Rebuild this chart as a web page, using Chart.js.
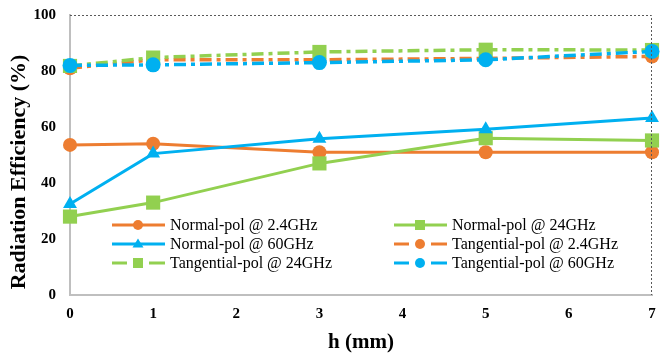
<!DOCTYPE html>
<html>
<head>
<meta charset="utf-8">
<script src="https://cdn.jsdelivr.net/npm/chart.js@4/dist/chart.umd.min.js"></script>
<style>
  html, body { margin: 0; padding: 0; background: #fff; }
  #chart { display: block; }
</style>
</head>
<body>
<canvas id="chart" width="662" height="355"></canvas>
<script>
  // ---- data ----
  const hValues      = [0, 1, 3, 5, 7];
  const normal24G    = [53.6, 54, 51, 51, 51];
  const normal24GHz  = [28, 33, 47, 56, 55.2];
  const normal60GHz  = [32.5, 50.5, 55.8, 59.2, 63.2];
  const tang24G      = [81, 84, 84, 84.5, 85.2];
  const tang24GHz    = [81.8, 84.8, 86.8, 87.6, 87.5];
  const tang60GHz    = [82, 82.2, 83, 84, 87];
  const yTicks       = [0, 20, 40, 60, 80, 100];
  const yTitle       = 'Radiation Efficiency (%)';

  const ORANGE = '#ED7D31';
  const GREEN  = '#92D050';
  const BLUE   = '#00B0F0';
  const SERIF  = '"Liberation Serif", "Times New Roman", serif';

  function pts(arr)
  {
      return hValues.map((h, i) => ({ x: h, y: arr[i] }));
  }

  function makeSet(label, values, color, style, dashed, radius, order)
  {
      return {
          label: label,
          data: pts(values),
          borderColor: color,
          backgroundColor: color,
          pointBackgroundColor: color,
          pointBorderColor: color,
          pointStyle: style,
          pointRadius: radius,
          pointBorderWidth: 0,
          borderWidth: dashed ? 3.5 : 3,
          borderDash: dashed ? [12, 5, 4, 5] : [],
          tension: 0,
          clip: false,
          order: order
      };
  }

  const datasets = [
      makeSet('Normal-pol @ 2.4GHz',     normal24G,   ORANGE, 'circle',   false, 7, 6),
      makeSet('Normal-pol @ 24GHz',      normal24GHz, GREEN,  'rect',     false, 10, 5),
      makeSet('Normal-pol @ 60GHz',      normal60GHz, BLUE,   'triangle', false, 8, 4),
      makeSet('Tangential-pol @ 2.4GHz', tang24G,     ORANGE, 'circle',   true,  7, 3),
      makeSet('Tangential-pol @ 24GHz',  tang24GHz,   GREEN,  'rect',     true,  10, 2),
      makeSet('Tangential-pol @ 60GHz',  tang60GHz,   BLUE,   'circle',   true,  7.5, 1)
  ];

  /**==========================================================
   *   small marker drawer used by the in-plot legend
   ==========================================================*/
  function drawMarker(ctx, style, x, y, r, color)
  {
      ctx.save();
      ctx.fillStyle = color;
      ctx.setLineDash([]);
      ctx.beginPath();
      if (style === 'circle') {
          ctx.arc(x, y, r, 0, Math.PI * 2);
      } else if (style === 'rect') {
          ctx.rect(x - r, y - r, 2 * r, 2 * r);
      } else {
          ctx.moveTo(x, y - r * 1.1);
          ctx.lineTo(x + r * 1.1, y + r * 0.7);
          ctx.lineTo(x - r * 1.1, y + r * 0.7);
          ctx.closePath();
      }
      ctx.fill();
      ctx.restore();
  }

  // dashed frame on top / right, y title, legend inside the plot area
  const framePlugin = {
      id: 'frameAndLegend',
      afterDraw(chart)
      {
          const ctx = chart.ctx;
          const a = chart.chartArea;
          ctx.save();
          ctx.strokeStyle = '#595959';
          ctx.lineWidth = 1;
          ctx.setLineDash([2, 2]);
          ctx.beginPath();
          ctx.moveTo(a.left, a.top + 0.5);
          ctx.lineTo(a.right - 0.5, a.top + 0.5);
          ctx.lineTo(a.right - 0.5, a.bottom);
          ctx.stroke();
          ctx.restore();

          // y title, a bit below the middle like the original
          ctx.save();
          ctx.translate(25, 172);
          ctx.rotate(-Math.PI / 2);
          ctx.fillStyle = '#000';
          ctx.font = 'bold 22px ' + SERIF;
          ctx.textAlign = 'center';
          ctx.textBaseline = 'alphabetic';
          ctx.fillText(yTitle, 0, 0);
          ctx.restore();

          // legend
          const colX = [112, 394];
          const rowY = [225, 244, 263];
          chart.data.datasets.forEach((ds, i) => {
              const x0 = colX[i % 2];
              const y = rowY[Math.floor(i / 2)];
              const dashed = ds.borderDash.length > 0;
              ctx.save();
              ctx.strokeStyle = ds.borderColor;
              ctx.lineWidth = 3;
              ctx.setLineDash([]);
              ctx.beginPath();
              if (dashed) {
                  ctx.moveTo(x0, y); ctx.lineTo(x0 + 15, y);
                  ctx.moveTo(x0 + 37, y); ctx.lineTo(x0 + 53, y);
              } else {
                  ctx.moveTo(x0, y); ctx.lineTo(x0 + 53, y);
              }
              ctx.stroke();
              ctx.restore();
              drawMarker(ctx, ds.pointStyle, x0 + 26, y, 5, ds.borderColor);

              ctx.save();
              ctx.fillStyle = '#000';
              ctx.font = '16px ' + SERIF;
              ctx.textBaseline = 'middle';
              ctx.fillText(ds.label, x0 + 58, y + 1);
              ctx.restore();
          });
      }
  };

  new Chart(document.getElementById('chart'), {
      type: 'line',
      data: { datasets: datasets },
      options: {
          responsive: false,
          animation: false,
          layout: { padding: { top: 15, right: 4, left: 0, bottom: 0 } },
          plugins: {
              legend: { display: false },
              tooltip: { enabled: false }
          },
          scales: {
              x: {
                  type: 'linear',
                  min: 0,
                  max: 7,
                  ticks: {
                      stepSize: 1,
                      color: '#000',
                      font: { family: SERIF, size: 15, weight: 'bold' },
                      padding: 10
                  },
                  grid: { display: false, drawTicks: false },
                  border: { display: true, color: '#BFBFBF', width: 2 },
                  title: {
                      display: true,
                      text: 'h (mm)',
                      color: '#000',
                      font: { family: SERIF, size: 21, weight: 'bold' },
                      padding: { top: 5, bottom: 0 }
                  },
                  afterFit(scale) {
                      scale.height = 60;
                      scale.paddingLeft = 0;
                      scale.paddingRight = 0;
                  }
              },
              y: {
                  min: 0,
                  max: 100,
                  afterBuildTicks(scale) { scale.ticks = yTicks.map(v => ({ value: v })); },
                  ticks: {
                      color: '#000',
                      font: { family: SERIF, size: 15, weight: 'bold' },
                      padding: 14
                  },
                  grid: { display: false, drawTicks: false },
                  border: { display: true, color: '#BFBFBF', width: 2 },
                  afterFit(scale) {
                      scale.width = 70;
                      scale.paddingTop = 0;
                      scale.paddingBottom = 0;
                  }
              }
          }
      },
      plugins: [framePlugin]
  });
</script>
</body>
</html>
